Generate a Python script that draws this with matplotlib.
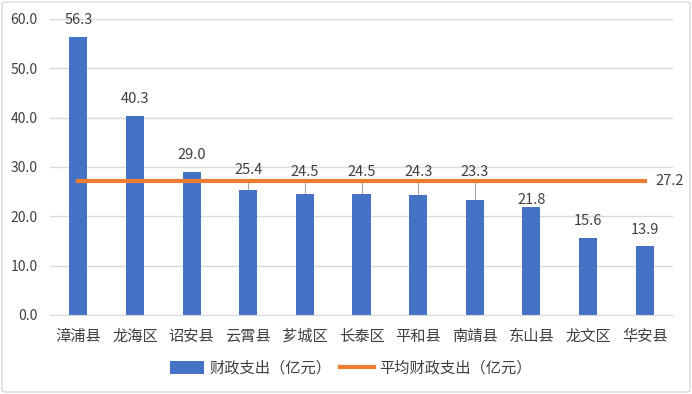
import matplotlib.pyplot as plt
from matplotlib.patches import FancyBboxPatch

plt.rcParams["font.family"] = ["Noto Sans CJK SC", "DejaVu Sans"]
plt.rcParams["axes.unicode_minus"] = False

counties = ["漳浦县", "龙海区", "诏安县", "云霄县", "芗城区", "长泰区",
            "平和县", "南靖县", "东山县", "龙文区", "华安县"]
spend = [56.3, 40.3, 29.0, 25.4, 24.5, 24.5, 24.3, 23.3, 21.8, 15.6, 13.9]
avg = 27.2

blue = "#4472C4"
orange = "#ED7D31"
txt = "#404040"

fig = plt.figure(figsize=(6.92, 3.94), dpi=100)
ax = fig.add_axes([50 / 692, 1 - 315 / 394, 623 / 692, 296 / 394])

x = list(range(len(counties)))
ax.bar(x, spend, width=0.32, color=blue, zorder=2, label="财政支出（亿元）")
ax.plot(x, [avg] * len(x), color=orange, linewidth=3, zorder=3,
        label="平均财政支出（亿元）")

# 数据标签，被均线挡住的抬高并加引导线
for i, v in enumerate(spend):
    if 22 < v < avg:
        ax.plot([i, i], [v, avg + 0.4], color="#A6A6A6", linewidth=0.8, zorder=1)
        ax.text(i, 29.4 if v > 25 else 29.0, f"{v:.1f}", ha="center", va="center",
                fontsize=10.5, color=txt)
    elif 20 < v <= 22:
        ax.text(i, v + 0.1, f"{v:.1f}", ha="center", va="bottom", fontsize=10.5, color=txt)
    else:
        ax.text(i, v + 2.0, f"{v:.1f}", ha="center", va="bottom", fontsize=10.5, color=txt)
ax.text(len(x) - 1 + 0.19, avg, f"{avg:.1f}", ha="left", va="center",
        fontsize=10.5, color=txt)

ax.set_xlim(-0.5, len(x) - 0.5)
ax.set_ylim(0, 60)
ax.set_yticks(range(0, 61, 10))
ax.set_yticklabels([f"{t:.1f}" for t in range(0, 61, 10)], fontsize=10, color=txt)
ax.set_xticks(x)
ax.set_xticklabels(counties, fontsize=11, color=txt)
ax.tick_params(length=0)
ax.tick_params(axis="x", pad=9)
ax.tick_params(axis="y", pad=9)

ax.grid(axis="y", color="#D9D9D9", linewidth=1, zorder=0)
for s in ["top", "right", "left"]:
    ax.spines[s].set_visible(False)
ax.spines["bottom"].set_color("#D9D9D9")

h, l = ax.get_legend_handles_labels()
order = [l.index("财政支出（亿元）"), l.index("平均财政支出（亿元）")]
leg = fig.legend([h[k] for k in order], [l[k] for k in order],
                 loc="center", bbox_to_anchor=(0.507, 1 - 368 / 394), ncol=2,
                 frameon=False, fontsize=11, handlelength=2.2, handleheight=0.9,
                 columnspacing=0.6, handletextpad=0.35)
for t in leg.get_texts():
    t.set_color(txt)

fig.patches.append(FancyBboxPatch((2 / 692, 2 / 394), 688 / 692, 390 / 394,
                                  boxstyle="round,pad=0,rounding_size=0.005",
                                  transform=fig.transFigure, fill=False,
                                  edgecolor="#D9D9D9", linewidth=1))

fig.savefig("out.png", dpi=100, facecolor="white")
